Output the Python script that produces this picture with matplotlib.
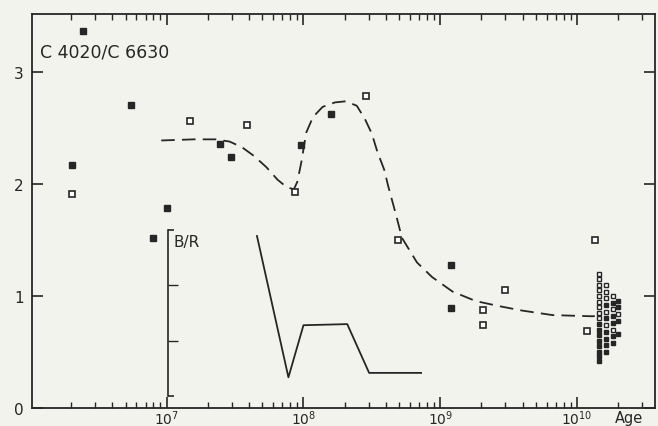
import matplotlib.pyplot as plt
import numpy as np

# log10(age) and C4020/C6630 for filled and open squares
filled_logage = [6.39, 6.31, 6.74, 7.00, 6.90, 7.39, 7.47, 7.985, 8.20, 9.08, 9.08]
filled_ratio = [3.37, 2.17, 2.71, 1.79, 1.52, 2.36, 2.24, 2.35, 2.63, 1.28, 0.89]
open_logage = [6.31, 7.17, 7.59, 7.94, 8.46, 8.69, 9.31, 9.31, 9.47, 10.13, 10.07]
open_ratio = [1.91, 2.56, 2.53, 1.93, 2.79, 1.50, 0.875, 0.74, 1.05, 1.50, 0.69]

# globular cluster clump near 1.5e10 yr
clump_open_logage = [10.16, 10.16, 10.16, 10.16, 10.16, 10.16, 10.16, 10.16, 10.16,
                     10.21, 10.21, 10.21, 10.21, 10.21, 10.26, 10.26, 10.26, 10.30]
clump_open_ratio = [1.20, 1.15, 1.10, 1.05, 1.00, 0.95, 0.90, 0.85, 0.80,
                    1.10, 1.04, 0.98, 0.86, 0.74, 1.00, 0.88, 0.70, 0.84]
clump_filled_logage = [10.16, 10.16, 10.16, 10.16, 10.16, 10.16, 10.16, 10.16,
                       10.21, 10.21, 10.21, 10.21, 10.21, 10.21,
                       10.26, 10.26, 10.26, 10.26, 10.26, 10.30, 10.30, 10.30, 10.30]
clump_filled_ratio = [0.75, 0.70, 0.65, 0.60, 0.55, 0.50, 0.46, 0.42,
                      0.92, 0.80, 0.68, 0.62, 0.56, 0.50,
                      0.94, 0.82, 0.76, 0.64, 0.58, 0.96, 0.90, 0.78, 0.66]

# dashed fit curve
curve_logage = [6.96, 7.20, 7.36, 7.46, 7.55, 7.64, 7.73, 7.81, 7.88, 7.93, 7.955,
                7.985, 8.02, 8.07, 8.14, 8.23, 8.31, 8.39, 8.45, 8.50, 8.54, 8.59,
                8.62, 8.68, 8.72, 8.77, 8.83, 8.94, 9.09, 9.26, 9.43, 9.60, 9.82,
                10.09, 10.13]
curve_ratio = [2.39, 2.40, 2.40, 2.38, 2.33, 2.25, 2.15, 2.04, 1.97, 1.955, 2.02,
               2.20, 2.46, 2.60, 2.69, 2.73, 2.74, 2.70, 2.58, 2.45, 2.29, 2.13,
               1.98, 1.71, 1.52, 1.42, 1.30, 1.17, 1.04, 0.955, 0.91, 0.87, 0.83,
               0.82, 0.82]

# inset B/R
br_logage = [7.66, 7.89, 8.00, 8.32, 8.48, 8.86]
br_value = [2.89, 0.34, 1.28, 1.30, 0.42, 0.42]

ink = '#262626'
paper = '#f3f3ee'

plt.rcParams['font.family'] = ['DejaVu Sans']
fig = plt.figure(figsize=(6.58, 4.27), dpi=100, facecolor=paper)
ax = fig.add_axes([0.0486, 0.0422, 0.9468, 0.9227], facecolor=paper)

xlo, xhi = 6.015, 10.57
ax.set_xscale('log')
ax.set_xlim(10**xlo, 10**xhi)
ax.set_ylim(0, 3.52)

ax.plot(10**np.array(curve_logage), curve_ratio, ls=(0, (7.5, 4)), color=ink, lw=1.3)

sq = dict(marker='s', ls='none', ms=4.3)
ax.plot(10**np.array(filled_logage), filled_ratio, mfc=ink, mec=ink, **sq)
ax.plot(10**np.array(open_logage), open_ratio, mfc='white', mec=ink, mew=1.2, **sq)
ax.plot(10**np.array(clump_filled_logage), clump_filled_ratio, mfc=ink, mec=ink,
        marker='s', ls='none', ms=3.2)
ax.plot(10**np.array(clump_open_logage), clump_open_ratio, mfc='white', mec=ink,
        mew=1.0, marker='s', ls='none', ms=3.2)

for s in ax.spines.values():
    s.set_color(ink)
    s.set_linewidth(1.3)

ax.set_yticks([0, 1, 2, 3])
ax.set_yticklabels(['0', '1', '2', '3'])
ax.tick_params(axis='y', which='major', direction='in', length=8, width=1.2,
               color=ink, labelsize=11, labelcolor=ink, pad=6, right=True)
ax.set_xticks([1e7, 1e8, 1e9, 1e10])
ax.set_xticklabels(['$10^{7}$', '$10^{8}$', '$10^{9}$', '$10^{10}$'])
ax.tick_params(axis='x', which='major', direction='in', length=8, width=1.2,
               color=ink, labelsize=10, labelcolor=ink, pad=0.5, top=True)
ax.tick_params(axis='x', which='minor', direction='in', length=4, width=1.0,
               color=ink, top=True)
ax.minorticks_on()
ax.yaxis.set_minor_locator(plt.NullLocator())

ax.text(0.013, 0.905, 'C 4020/C 6630', transform=ax.transAxes, fontsize=12.5,
        color=ink, va='center', ha='left')
ax.text(0.958, -0.044, 'Age', transform=ax.transAxes, fontsize=10.5,
        color=ink, va='bottom', ha='center')

# inset for B/R sharing the age scale
ins_left = 0.218
ins = ax.inset_axes([ins_left, 0.030, 1 - ins_left, 0.422])
ins.patch.set_alpha(0)
ins.set_xscale('log')
ins.set_xlim(10**(xlo + ins_left * (xhi - xlo)), 10**xhi)
ins.set_ylim(0, 3)
for k in ['top', 'right', 'bottom']:
    ins.spines[k].set_visible(False)
ins.spines['left'].set_color(ink)
ins.spines['left'].set_linewidth(1.2)
ins.set_xticks([])
ins.xaxis.set_minor_locator(plt.NullLocator())
ins.set_yticks([1, 2])
ins.set_yticks([0, 3], minor=True)
ins.tick_params(axis='y', which='major', direction='in', length=7, width=1.0,
                color=ink, labelleft=False)
ins.tick_params(axis='y', which='minor', direction='in', length=4, width=1.2,
                color=ink)
ins.plot(10**np.array(br_logage), br_value, color=ink, lw=1.3)
ins.text(0.012, 0.975, 'B/R', transform=ins.transAxes, fontsize=11,
         color=ink, va='top', ha='left')

fig.savefig('out.png', dpi=100, facecolor=paper)
